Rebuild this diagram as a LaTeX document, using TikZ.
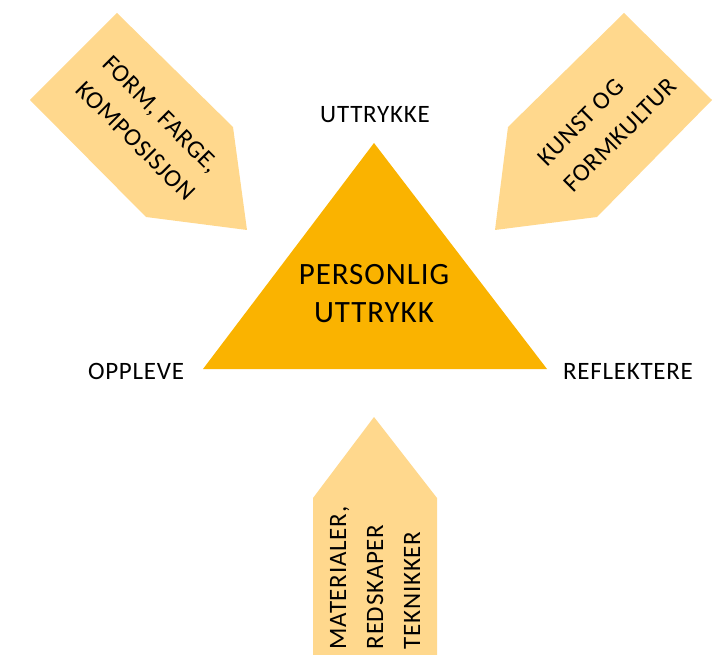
\documentclass[tikz,border=0pt]{standalone}
\usepackage{fontspec}
\setmainfont[LetterSpace=3]{Carlito}
\definecolor{trifill}{HTML}{FAB300}
\definecolor{arrfill}{HTML}{FFD88D}
\begin{document}
\begin{tikzpicture}[x=1pt,y=-1pt,
  lbl/.style={font=\fontsize{25}{37}\selectfont, inner sep=0pt, align=left},
  corner/.style={font=\fontsize{25}{30}\selectfont, inner sep=0pt},
  main/.style={font=\fontsize{31}{38}\selectfont, inner sep=0pt, align=center},
  arrowshape/.style={fill=arrfill},
  trishape/.style={fill=trifill}]
\useasboundingbox (0,0) rectangle (718,655);
% arrows
\fill[arrowshape] (117,13) -- (233,127) -- (247,230) -- (146,217) -- (30,100) -- cycle;
\fill[arrowshape] (624,13) -- (712,100) -- (597,217) -- (495,230) -- (508,127) -- cycle;
\fill[arrowshape] (374,417) -- (437,498) -- (437,655) -- (313,655) -- (313,498) -- cycle;
% triangle
\fill[trishape] (374,143) -- (547,369) -- (203,369) -- cycle;
% texts
\node[main] (center) at (374,294) {PERSONLIG\\UTTRYKK};
\node[corner] (top) at (375,115) {UTTRYKKE};
\node[corner] (left) at (136,371) {OPPLEVE};
\node[corner] (right) at (628,371) {REFLEKTERE};
\node[lbl, rotate=-45] (form) at (149,128) {FORM, FARGE,\\KOMPOSISJON};
\node[lbl, rotate=45] (kunst) at (607,122) {KUNST OG\\FORMKULTUR};
\node[lbl, rotate=90] (mat) at (375,578) {MATERIALER,\\REDSKAPER\\TEKNIKKER};
\end{tikzpicture}
\end{document}
